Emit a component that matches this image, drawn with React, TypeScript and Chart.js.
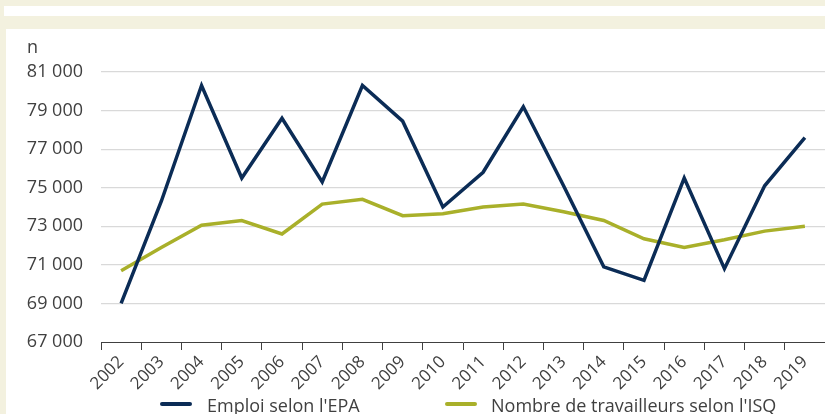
import React, { useEffect, useRef } from 'react';
import { Chart, registerables } from 'chart.js';

Chart.register(...registerables);

const years = ['2002', '2003', '2004', '2005', '2006', '2007', '2008', '2009', '2010', '2011', '2012', '2013', '2014', '2015', '2016', '2017', '2018', '2019'];
const emploiEPA = [69000, 74300, 80300, 75500, 78600, 75300, 80300, 78450, 74000, 75800, 79200, 75100, 70900, 70200, 75500, 70800, 75100, 77600];
const travailleursISQ = [70700, 71900, 73050, 73300, 72600, 74150, 74400, 73550, 73650, 74000, 74150, 73750, 73300, 72350, 71900, 72300, 72750, 73000];
const seriesNames = ["Emploi selon l'EPA", "Nombre de travailleurs selon l'ISQ"];
const seriesColors = ['#0b2c56', '#a9b02a'];
const yMin = 67000;
const yMax = 81000;
const yStep = 2000;
const yUnit = 'n';

const FONT = "'Open Sans', sans-serif";
const TEXT = '#404040';

function fmt(v: number): string {
  const s = String(Math.round(v));
  return s.replace(/\B(?=(\d{3})+(?!\d))/g, ' ');
}

export default function App() {
  const ref = useRef<HTMLCanvasElement | null>(null);

  useEffect(() => {
    if (!ref.current) return;
    const chart = new Chart(ref.current, {
      type: 'line',
      data: {
        labels: years,
        datasets: [
          {
            label: seriesNames[0],
            data: emploiEPA,
            borderColor: seriesColors[0],
            backgroundColor: seriesColors[0],
            borderWidth: 3.5,
            pointRadius: 0,
            tension: 0,
          },
          {
            label: seriesNames[1],
            data: travailleursISQ,
            borderColor: seriesColors[1],
            backgroundColor: seriesColors[1],
            borderWidth: 3.5,
            pointRadius: 0,
            tension: 0,
          },
        ],
      },
      options: {
        responsive: false,
        animation: false,
        devicePixelRatio: 1,
        layout: { padding: { top: 43, left: 0, right: 0, bottom: 0 } },
        plugins: {
          legend: { display: false },
          tooltip: { enabled: false },
        },
        scales: {
          x: {
            offset: true,
            grid: {
              offset: true,
              drawOnChartArea: false,
              drawTicks: true,
              tickLength: 8,
              color: '#404040',
              lineWidth: 1,
            },
            border: { display: true, color: '#404040', width: 1 },
            ticks: {
              minRotation: 45,
              maxRotation: 45,
              autoSkip: false,
              padding: 2,
              color: TEXT,
              font: { family: FONT, size: 17 },
            },
            afterFit: (s: any) => {
              s.height = 72;
            },
          },
          y: {
            min: yMin,
            max: yMax,
            grid: {
              drawTicks: false,
              color: (ctx: any) => (ctx.tick && ctx.tick.value === yMin ? 'rgba(0,0,0,0)' : '#d9d9d9'),
              lineWidth: 1.2,
            },
            border: { display: false },
            ticks: {
              stepSize: yStep,
              padding: 18,
              color: TEXT,
              font: { family: FONT, size: 18 },
              callback: (v: any) => fmt(Number(v)),
            },
            afterFit: (s: any) => {
              s.width = 95;
            },
          },
        },
      },
    });
    return () => chart.destroy();
  }, []);

  const legendItem = (i: number, lineLeft: number, textLeft: number) => (
    <React.Fragment key={i}>
      <div
        style={{
          position: 'absolute',
          left: lineLeft,
          top: 402,
          width: 32,
          height: 4,
          borderRadius: 2,
          background: seriesColors[i],
        }}
      />
      <div
        style={{
          position: 'absolute',
          left: textLeft,
          top: 396,
          fontFamily: FONT,
          fontSize: 18,
          lineHeight: '18px',
          color: TEXT,
          whiteSpace: 'nowrap',
        }}
      >
        {seriesNames[i]}
      </div>
    </React.Fragment>
  );

  return (
    <div
      style={{
        position: 'fixed',
        left: 0,
        top: 0,
        width: 825,
        height: 414,
        background: '#f3f1df',
        overflow: 'hidden',
      }}
    >
      <div style={{ position: 'absolute', left: 4, top: 6, width: 821, height: 10, background: '#ffffff' }} />
      <div style={{ position: 'absolute', left: 6, top: 29, width: 819, height: 385, background: '#ffffff' }}>
        <canvas ref={ref} width={819} height={385} style={{ display: 'block', width: 819, height: 385 }} />
      </div>
      <div
        style={{
          position: 'absolute',
          left: 27,
          top: 37,
          fontFamily: FONT,
          fontSize: 18,
          lineHeight: '18px',
          color: TEXT,
        }}
      >
        {yUnit}
      </div>
      {legendItem(0, 160, 207)}
      {legendItem(1, 445, 491)}
    </div>
  );
}
